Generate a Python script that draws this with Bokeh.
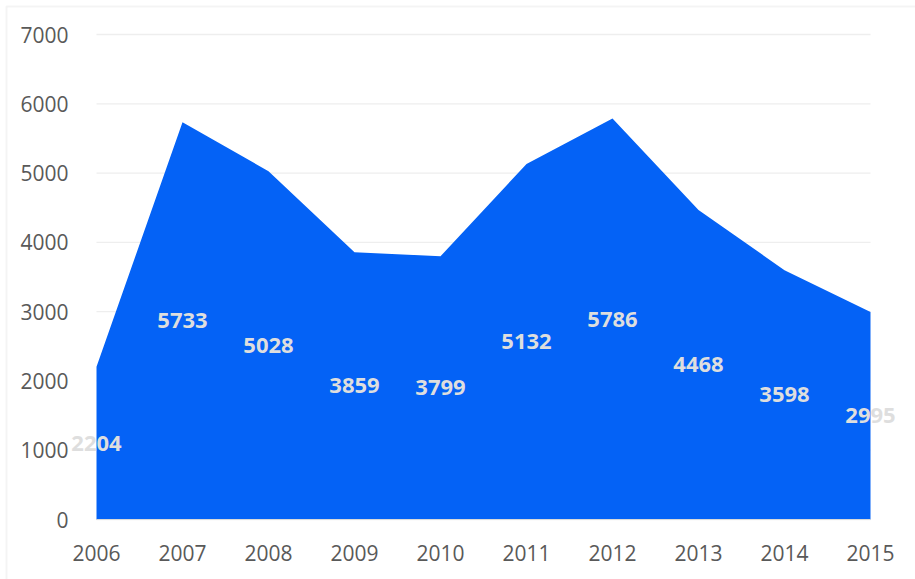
from bokeh.plotting import figure
from bokeh.models import ColumnDataSource, FixedTicker, LabelSet, BoxAnnotation, Range1d
from bokeh.core.properties import value
from bokeh.embed import file_html
from bokeh.resources import INLINE

years = [2006, 2007, 2008, 2009, 2010, 2011, 2012, 2013, 2014, 2015]
values = [2204, 5733, 5028, 3859, 3799, 5132, 5786, 4468, 3598, 2995]
y_ticks = [0, 1000, 2000, 3000, 4000, 5000, 6000, 7000]

src = ColumnDataSource(dict(
    x=years, y=values, zero=[0] * len(years),
    mid=[v / 2 for v in values], lab=[str(v) for v in values],
))

# frame covers the whole canvas so nothing is clipped; axes are placed at fixed locations
px_per_year = 86.0
px_per_unit = 485.0 / 7000
x0 = years[0] - 96 / px_per_year
x1 = years[-1] + 45 / px_per_year
y0 = -60 / px_per_unit
y1 = 7000 + 34 / px_per_unit

p = figure(width=915, height=579, output_backend="svg", toolbar_location=None,
           x_range=Range1d(x0, x1), y_range=Range1d(y0, y1),
           min_border=0, min_border_left=0, min_border_right=0,
           min_border_top=0, min_border_bottom=0)
p.outline_line_color = None
p.background_fill_color = "white"
p.border_fill_color = "white"
p.xgrid.grid_line_color = None
p.ygrid.grid_line_color = None

# horizontal gridlines spanning the category extent
p.segment(x0=[years[0]] * len(y_ticks), x1=[years[-1]] * len(y_ticks),
          y0=y_ticks, y1=y_ticks, line_color="#eeeeee", line_width=1.3)

p.varea(x="x", y1="zero", y2="y", source=src, fill_color="#0462f6")

p.xaxis.ticker = FixedTicker(ticks=years)
p.yaxis.ticker = FixedTicker(ticks=y_ticks)
p.xaxis.fixed_location = 0
p.yaxis.fixed_location = years[0]
p.xaxis.bounds = (years[0], years[-1])
for ax in (p.xaxis[0], p.yaxis[0]):
    ax.major_tick_line_color = None
    ax.minor_tick_line_color = None
    ax.major_label_text_font = "Open Sans"
    ax.major_label_text_font_size = "21px"
    ax.major_label_text_color = "#595959"
p.yaxis.axis_line_color = None
p.xaxis.axis_line_color = "#d9d9d9"
p.yaxis.major_label_standoff = 22
p.xaxis.major_label_standoff = 19

labels = LabelSet(x="x", y="mid", text="lab", source=src, text_align="center",
                  text_baseline="middle", text_font=value("Open Sans"), text_font_style="bold",
                  text_font_size="22px", text_color="#dedede")
p.add_layout(labels)

frame = BoxAnnotation(left=6, right=940, top=6, bottom=600,
                      left_units="canvas", right_units="canvas",
                      top_units="canvas", bottom_units="canvas",
                      fill_color=None, line_color="#d9d9d9", line_width=2, level="overlay")
p.add_layout(frame)

open("out.html", "w").write(file_html(p, INLINE))
